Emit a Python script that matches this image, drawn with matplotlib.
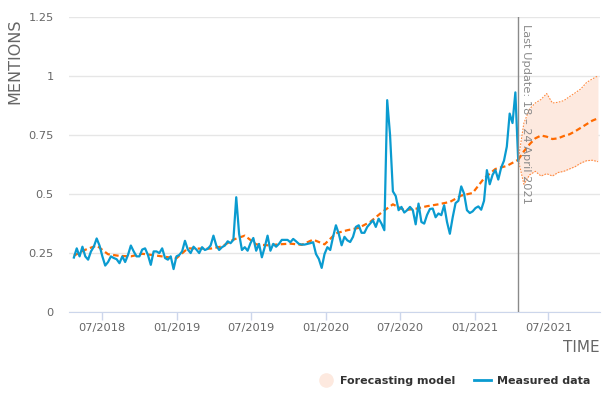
import matplotlib
matplotlib.use("Agg")
import matplotlib.pyplot as plt
import matplotlib.dates as mdates
from matplotlib.lines import Line2D
import pandas as pd

# measured weekly mentions, 22 Apr 2018 .. 18 Apr 2021
measured_start = "2018-04-22"
measured = [
    0.229, 0.268, 0.234, 0.275, 0.234, 0.22, 0.255, 0.275, 0.31, 0.28,
    0.234, 0.195, 0.21, 0.234, 0.227, 0.222, 0.205, 0.234, 0.21, 0.24,
    0.28, 0.255, 0.234, 0.234, 0.263, 0.268, 0.24, 0.198, 0.255, 0.255,
    0.248, 0.268, 0.227, 0.22, 0.234, 0.18, 0.234, 0.24, 0.255, 0.30,
    0.263, 0.248, 0.275, 0.263, 0.248,
    0.273, 0.261, 0.266, 0.28, 0.322, 0.28, 0.261, 0.273, 0.28, 0.298,
    0.29, 0.304, 0.485, 0.33, 0.261,
    0.273, 0.258, 0.29, 0.312, 0.258, 0.287, 0.23, 0.273, 0.322, 0.258,
    0.287, 0.275, 0.287, 0.304, 0.304, 0.304, 0.294, 0.308, 0.298, 0.287,
    0.284, 0.284, 0.287, 0.29, 0.294, 0.244, 0.223, 0.185, 0.244, 0.273,
    0.261,
    0.317, 0.366, 0.33, 0.281, 0.317, 0.302, 0.295, 0.317, 0.359, 0.366,
    0.334, 0.334, 0.359, 0.373, 0.387, 0.359, 0.394, 0.373, 0.345,
    0.897, 0.75, 0.51, 0.49, 0.43, 0.444, 0.42, 0.43, 0.444, 0.43,
    0.37, 0.458, 0.38, 0.373, 0.41, 0.435, 0.437, 0.40, 0.416, 0.409,
    0.451, 0.38, 0.33, 0.40, 0.46, 0.47,
    0.531, 0.50, 0.43, 0.418, 0.425, 0.439, 0.446, 0.432, 0.47, 0.60,
    0.54, 0.58, 0.60, 0.56, 0.61, 0.64, 0.70, 0.84, 0.80, 0.93, 0.64,
]

# forecasting model fitted on history (every 4 weeks)
model_fit = [
    0.237, 0.262, 0.28, 0.243, 0.236, 0.234, 0.245, 0.239, 0.232, 0.226,
    0.268, 0.267, 0.267, 0.276, 0.305, 0.322, 0.285, 0.281, 0.285, 0.288,
    0.283, 0.305, 0.285, 0.332, 0.345, 0.355, 0.38, 0.42, 0.455, 0.43,
    0.436, 0.447, 0.455, 0.465, 0.492, 0.503, 0.565, 0.605, 0.618, 0.644,
]

# forecast every 2 weeks from the last update
forecast_start = "2021-04-18"
forecast_mid = [0.644, 0.68, 0.71, 0.735, 0.747, 0.742, 0.732, 0.735,
                0.745, 0.752, 0.765, 0.78, 0.795, 0.81, 0.82]
forecast_hi = [0.644, 0.80, 0.86, 0.885, 0.90, 0.925, 0.885, 0.888,
               0.895, 0.912, 0.928, 0.945, 0.972, 0.987, 1.0]
forecast_lo = [0.644, 0.54, 0.58, 0.595, 0.575, 0.585, 0.575, 0.59,
               0.595, 0.605, 0.615, 0.63, 0.64, 0.642, 0.636]

y_ticks = [0, 0.25, 0.5, 0.75, 1, 1.25]
y_labels = ["0", "0.25", "0.5", "0.75", "1", "1.25"]
last_update = "2021-04-18"
last_update_label = "Last Update: 18 \u2013 24 April 2021"

BLUE = "#0a9bd0"
ORANGE = "#ff6a00"
BAND = "#fde9df"
GRAY = "#666666"

meas_dates = pd.date_range(measured_start, periods=len(measured), freq="7D")
fit_dates = pd.date_range(measured_start, periods=len(model_fit), freq="28D")
fc_dates = pd.date_range(forecast_start, periods=len(forecast_mid), freq="14D")

plt.rcParams["font.family"] = "DejaVu Sans"
fig = plt.figure(figsize=(6.04, 3.93), dpi=100)
ax = fig.add_axes([69 / 604, 1 - 311.5 / 393, 531 / 604, 294.5 / 393])

ax.fill_between(fc_dates, forecast_lo, forecast_hi, color=BAND, lw=0, zorder=1)
for edge in (forecast_lo, forecast_hi):
    ax.plot(fc_dates, edge, color="#ff8a40", lw=0.8, dashes=(1.5, 1.2), zorder=2)
ax.plot(fit_dates, model_fit, color=ORANGE, lw=1.6, dashes=(2.5, 1.5), zorder=3)
ax.plot(fc_dates, forecast_mid, color=ORANGE, lw=1.6, dashes=(2.5, 1.5), zorder=3)
ax.plot(meas_dates, measured, color=BLUE, lw=1.6, zorder=4)

lu = pd.Timestamp(last_update)
ax.axvline(lu, color="#8a8a8a", lw=1, zorder=5)
ax.text(lu + pd.Timedelta(days=6), 1.22, last_update_label, rotation=-90,
        va="top", ha="left", fontsize=8.2, color="#8a8a8a", zorder=6)

ax.set_xlim(pd.Timestamp("2018-04-10"), pd.Timestamp("2021-11-05"))
ax.set_ylim(0, 1.25)
ax.set_yticks(y_ticks)
ax.set_yticklabels(y_labels)
ax.xaxis.set_major_locator(mdates.MonthLocator(bymonth=[1, 7]))
ax.xaxis.set_major_formatter(mdates.DateFormatter("%m/%Y"))

ax.grid(axis="y", color="#e6e6e6", lw=1)
ax.set_axisbelow(True)
for side in ("top", "right", "left"):
    ax.spines[side].set_visible(False)
ax.spines["bottom"].set_color("#ccd6eb")
ax.tick_params(axis="y", length=0, pad=11, labelsize=8.2, labelcolor=GRAY)
ax.tick_params(axis="x", length=6, width=1, color="#ccd6eb", pad=2,
               labelsize=8.2, labelcolor=GRAY)

fig.text(15 / 604, 1 - 18 / 393, "MENTIONS", rotation=90, va="top",
         ha="center", fontsize=11.5, color=GRAY)
fig.text(600 / 604, 1 - 347 / 393, "TIME", va="center", ha="right",
         fontsize=11, color=GRAY)

handles = [
    Line2D([], [], marker="o", ls="none", ms=9.5, color=BAND, mec=BAND),
    Line2D([], [], color=BLUE, lw=2),
]
fig.legend(handles, ["Forecasting model", "Measured data"], ncol=2,
           loc="center right", bbox_to_anchor=(600 / 604, 1 - 381 / 393),
           frameon=False, handlelength=1.5, handletextpad=0.5,
           columnspacing=1.7, prop={"weight": "bold", "size": 8},
           labelcolor="#333333")

fig.savefig("out.png", dpi=100)
